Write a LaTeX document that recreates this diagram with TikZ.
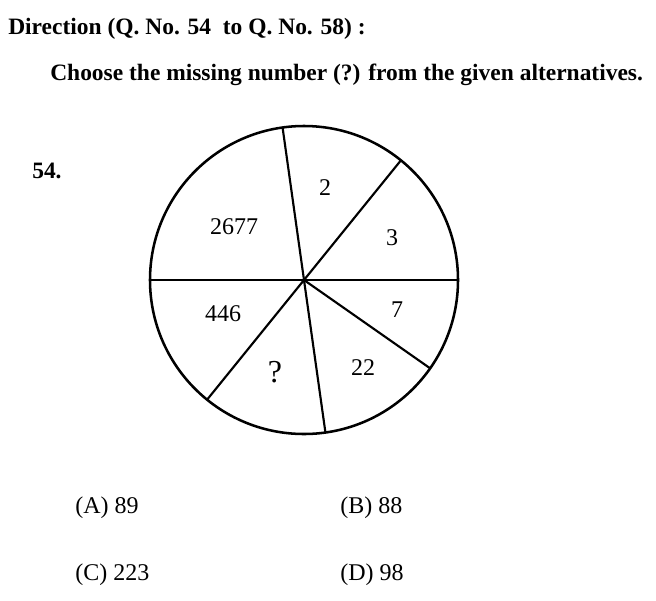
\documentclass[tikz,border=0pt]{standalone}
\usepackage{fontspec}
\setmainfont{Liberation Serif}
\tikzset{
	headtext/.style={anchor=base west, inner sep=0, font=\fontsize{17.6}{20}\selectfont\bfseries},
	numtext/.style={inner sep=0, font=\fontsize{18}{20}\selectfont},
	opttext/.style={anchor=base west, inner sep=0, font=\fontsize{18}{20}\selectfont},
	spoke/.style={line width=1.6pt}
}

\begin{document}
\begin{tikzpicture}[x=0.75pt, y=0.75pt]
	\useasboundingbox (0,0) rectangle (656,-600);
	\node[headtext] (dir) at (8,-34) {Direction (Q. No. 54\ \ to Q. No. 58) :};
	\node[headtext] (task) at (50,-80) {Choose the missing number (?) from the given alternatives.};
	\node[headtext] (qno) at (32,-178) {54.};
	
	\node[draw, circle, minimum size=231pt, inner sep=0, outer sep=0, line width=1.9pt] (wheel) at (304,-280) {};
	\draw[spoke] (wheel.98) -- (wheel.278);
	\draw[spoke] (wheel.51) -- (wheel.231);
	\draw[spoke] (wheel.180) -- (wheel.0);
	\draw[spoke] (wheel.center) -- (wheel.325);
	
	\node[numtext] (n2) at (325,-188) {2};
	\node[numtext] (n2677) at (234,-227) {2677};
	\node[numtext] (n3) at (392,-238) {3};
	\node[numtext] (n446) at (223,-314) {446};
	\node[numtext] (n7) at (397,-310) {7};
	\node[numtext, font=\fontsize{24}{26}\selectfont] (nq) at (275,-372) {?};
	\node[numtext] (n22) at (363,-368) {22};
	
	\node[opttext] (optA) at (75,-513) {(A) 89};
	\node[opttext] (optB) at (340,-513) {(B) 88};
	\node[opttext] (optC) at (75,-580) {(C) 223};
	\node[opttext] (optD) at (340,-580) {(D) 98};
\end{tikzpicture}
\end{document}
